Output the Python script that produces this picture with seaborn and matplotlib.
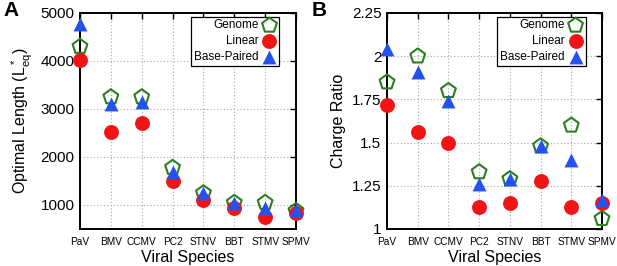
import matplotlib
matplotlib.use("Agg")
import matplotlib.pyplot as plt
import seaborn as sns
import pandas as pd

# Data
species = ["PaV", "BMV", "CCMV", "PC2", "STNV", "BBT", "STMV", "SPMV"]

length_genome = [4300, 3250, 3250, 1780, 1250, 1050, 1050, 880]
length_linear = [4030, 2530, 2700, 1500, 1100, 930, 750, 830]
length_paired = [4780, 3100, 3150, 1680, 1250, 1050, 930, 900]

charge_genome = [1.85, 2.00, 1.80, 1.33, 1.29, 1.48, 1.60, 1.06]
charge_linear = [1.72, 1.56, 1.50, 1.13, 1.15, 1.28, 1.13, 1.15]
charge_paired = [2.04, 1.91, 1.74, 1.26, 1.29, 1.48, 1.40, 1.17]

length_ticks = [1000, 2000, 3000, 4000, 5000]
charge_ticks = [1, 1.25, 1.5, 1.75, 2, 2.25]

green = "#2a7f1e"
red = "#f21414"
blue = "#2352f0"

sns.set_style("white")
plt.rcParams["font.family"] = ["Liberation Sans", "DejaVu Sans"]
plt.rcParams["mathtext.default"] = "regular"
for key in ["text.color", "axes.labelcolor", "xtick.color", "ytick.color"]:
    plt.rcParams[key] = "black"

fig = plt.figure(figsize=(6.17, 2.66), dpi=100)
axA = fig.add_axes([80 / 617, 1 - 229 / 266, 216 / 617, 216 / 266])
axB = fig.add_axes([387 / 617, 1 - 229 / 266, 215 / 617, 216 / 266])


def draw_panel(ax, genome, linear, paired, ticks, ylim, ylabel, fmt):
    df = pd.DataFrame({"species": species, "genome": genome,
                       "linear": linear, "paired": paired})
    sns.scatterplot(data=df, x="species", y="genome", ax=ax, marker="p",
                    s=125, facecolors="none", edgecolor=green, linewidth=1.5,
                    label="Genome", clip_on=False, zorder=3)
    sns.scatterplot(data=df, x="species", y="linear", ax=ax, marker="o",
                    s=115, color=red, linewidth=0, label="Linear",
                    clip_on=False, zorder=4)
    sns.scatterplot(data=df, x="species", y="paired", ax=ax, marker="^",
                    s=100, color=blue, linewidth=0, label="Base-Paired",
                    clip_on=False, zorder=5)
    ax.set_xlim(0, len(species) - 1)
    ax.set_ylim(*ylim)
    ax.set_yticks(ticks)
    ax.set_yticklabels([fmt(t) for t in ticks], fontsize=11)
    ax.set_xticks(range(len(species)))
    ax.set_xticklabels(species, fontsize=7.3)
    ax.set_xlabel("Viral Species", fontsize=11.5, labelpad=2)
    ax.set_ylabel(ylabel, fontsize=11.5, labelpad=4)
    ax.grid(True, linestyle=(0, (1, 2)), color="#a8a8a8", linewidth=0.8)
    ax.set_axisbelow(True)
    for sp in ax.spines.values():
        sp.set_linewidth(1.4)
        sp.set_color("black")
    ax.tick_params(direction="in", length=4, width=1, top=True, right=True,
                   pad=4, colors="black")
    ax.tick_params(axis="x", pad=6)
    leg = ax.legend(loc="upper right", markerfirst=False, fontsize=8.5,
                    frameon=True, fancybox=False, framealpha=1,
                    edgecolor="black", borderpad=0.25, labelspacing=0.32,
                    handletextpad=0.3, handlelength=1.2, borderaxespad=0.3,
                    bbox_to_anchor=(0.94, 1.0))
    leg.get_frame().set_linewidth(0.9)
    for t in leg.get_texts():
        t.set_color("black")


draw_panel(axA, length_genome, length_linear, length_paired, length_ticks,
           (500, 5000), r"Optimal Length (L$^*_{eq}$)", lambda t: f"{t:g}")
draw_panel(axB, charge_genome, charge_linear, charge_paired, charge_ticks,
           (1, 2.25), "Charge Ratio", lambda t: f"{t:g}")

fig.text(0.005, 0.995, "A", fontsize=15, fontweight="bold", va="top")
fig.text(0.505, 0.995, "B", fontsize=15, fontweight="bold", va="top")

fig.savefig("out.png", dpi=100)
